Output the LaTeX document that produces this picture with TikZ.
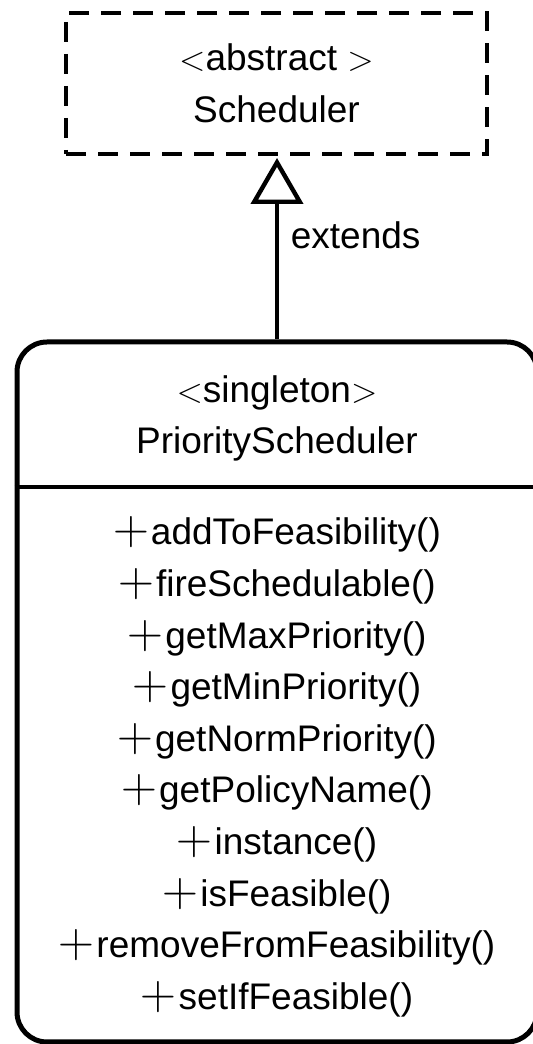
\documentclass[tikz,border=0pt]{standalone}
\usepackage{fontspec}
\setmainfont{Liberation Sans}
\usetikzlibrary{arrows.meta,positioning}

\newcommand{\pub}{{\fontsize{23}{25.8}\selectfont$+$}\kern1pt}

\begin{document}
\begin{tikzpicture}[font=\fontsize{18.5}{25.8}\selectfont]

  \tikzstyle{abstractbox} = [draw, dash pattern=on 10pt off 6pt, line width=2pt, minimum width=210.5pt, minimum height=70.5pt, align=center]
  \tikzstyle{classbox} = [draw, rounded corners=15pt, line width=2.5pt, minimum width=260pt, minimum height=350pt]
  \tikzstyle{txt} = [align=center]

  \useasboundingbox (0,0) rectangle (266.5pt,522pt);

  \node[abstractbox] (sched) at (138.25pt,480.25pt) {$<$abstract $>$\\Scheduler};
  \node[classbox] (prio) at (138.5pt,176pt) {};
  \node[txt] (stereo) at (138.5pt,312.8pt) {$<$singleton$>$\\PriorityScheduler};
  \coordinate (sep) at (138.5pt,278.5pt);
  \node[txt] (methods) at (138.5pt,138.5pt)
  {
    \pub addToFeasibility()\\ %
    \pub fireSchedulable()\\ %
    \pub getMaxPriority()\\ %
    \pub getMinPriority()\\ %
    \pub getNormPriority()\\ %
    \pub getPolicyName()\\ %
    \pub instance()\\ %
    \pub isFeasible()\\ %
    \pub removeFromFeasibility()\\ %
    \pub setIfFeasible() %
  };

  \draw[line width=2pt] (prio.west |- sep) -- (prio.east |- sep);
  \draw[-{Triangle[open,length=23pt,width=26pt]}, line width=2.2pt, shorten >=1pt] (prio.north) -- node[pos=0.57,right=2.5pt] (ext) {extends} (prio.north |- sched.south);

\end{tikzpicture}
\end{document}
